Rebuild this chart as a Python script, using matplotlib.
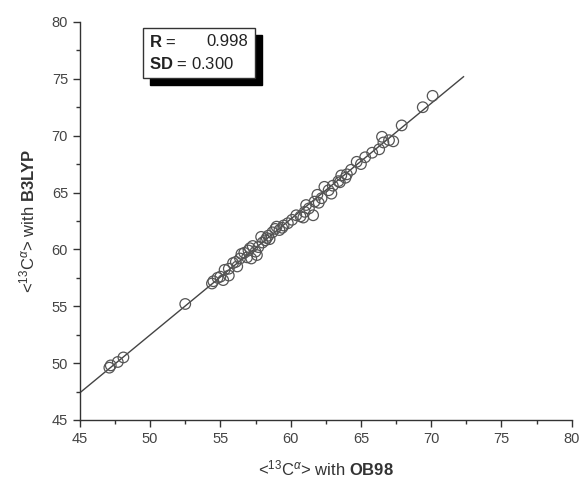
import matplotlib
matplotlib.use("Agg")
import matplotlib.pyplot as plt
import matplotlib.patches as mpatches
import numpy as np

plt.rcParams["font.family"] = ["Liberation Sans", "DejaVu Sans"]
plt.rcParams["mathtext.fontset"] = "custom"
plt.rcParams["mathtext.rm"] = "Liberation Sans"
plt.rcParams["mathtext.it"] = "Liberation Sans:italic"
plt.rcParams["mathtext.bf"] = "Liberation Sans:bold"

# <13C alpha> shifts, OB98 vs B3LYP
ob98 = [47.1, 47.2, 47.7, 48.1, 52.5, 54.4, 54.5, 55.0, 55.2, 55.3,
        55.6, 55.9, 56.2, 56.4, 56.5, 56.7, 56.9, 57.0, 57.2, 57.3,
        57.5, 57.7, 57.9, 58.0, 58.2, 58.4, 58.5, 58.7, 58.9, 59.0,
        59.2, 59.5, 59.8, 60.1, 60.4, 60.7, 61.0, 61.1, 61.3, 61.6,
        61.7, 61.9, 62.2, 62.4, 62.7, 63.0, 63.4, 63.5, 63.6, 63.9,
        64.3, 64.7, 65.0, 65.3, 65.8, 66.3, 66.5, 67.0, 67.3, 67.9,
        69.4, 70.1, 55.6, 56.1, 57.1, 57.6, 58.3, 59.4, 60.9, 62.0,
        62.9, 64.0, 66.6, 54.8]
b3lyp = [49.6, 49.8, 50.1, 50.5, 55.2, 57.0, 57.2, 57.6, 57.3, 58.2,
         58.3, 58.8, 58.5, 59.2, 59.6, 59.7, 59.3, 59.9, 59.2, 60.3,
         59.8, 60.2, 61.1, 60.6, 60.8, 61.2, 60.9, 61.5, 61.8, 62.0,
         61.7, 62.1, 62.3, 62.6, 63.0, 62.9, 63.3, 63.9, 63.6, 63.0,
         64.2, 64.8, 64.5, 65.5, 65.2, 65.6, 66.0, 65.9, 66.5, 66.3,
         67.0, 67.7, 67.5, 68.1, 68.5, 68.8, 69.9, 69.6, 69.5, 70.9,
         72.5, 73.5, 57.7, 58.9, 60.1, 59.5, 61.0, 61.9, 62.8, 64.1,
         64.9, 66.6, 69.4, 57.5]

fit_x = [45.0, 72.3]
fit_slope = 1.018
fit_icpt = 1.58

fig = plt.figure(figsize=(5.87, 4.87), dpi=100)
ax = fig.add_axes([0.136, 0.1376, 0.838, 0.8174])

ax.scatter(ob98, b3lyp, s=58, facecolors="none", edgecolors="#555555",
           linewidths=0.9, zorder=3)
fx = np.array(fit_x)
ax.plot(fx, fit_icpt + fit_slope * fx, color="#444444", lw=1.0, zorder=2)

ax.set_xlim(45, 80)
ax.set_ylim(45, 80)
ax.set_xticks(np.arange(45, 81, 5))
ax.set_yticks(np.arange(45, 81, 5))
ax.set_xticks(np.arange(47.5, 80, 5), minor=True)
ax.set_yticks(np.arange(47.5, 80, 5), minor=True)
for s in ("top", "right"):
    ax.spines[s].set_visible(False)
for s in ("left", "bottom"):
    ax.spines[s].set_color("#333333")
    ax.spines[s].set_linewidth(1.0)
ax.tick_params(which="major", direction="out", length=5, width=1,
               colors="#333333", labelsize=10.5, labelcolor="#444444")
ax.tick_params(which="minor", direction="out", length=3, width=1,
               colors="#333333")

ax.set_xlabel(r"<$^{13}$C$^{\alpha}$> with $\mathbf{OB98}$", fontsize=12,
              color="#333333", labelpad=9)
ax.set_ylabel(r"<$^{13}$C$^{\alpha}$> with $\mathbf{B3L\!YP}$", fontsize=12,
              color="#333333", labelpad=10)

# stats box with shadow
bx, by, bw, bh = 143 / 587, (487 - 78) / 487, 112 / 587, 50 / 487
shadow = mpatches.Rectangle((bx + 7 / 587, by - 7 / 487), bw, bh,
                            transform=fig.transFigure, facecolor="black",
                            edgecolor="black", zorder=5)
box = mpatches.Rectangle((bx, by), bw, bh, transform=fig.transFigure,
                         facecolor="white", edgecolor="#333333", lw=1,
                         zorder=6)
fig.patches.extend([shadow, box])
fig.text(bx + 6 / 587, by + bh * 0.72, r"$\mathbf{R}$ =", fontsize=12,
         va="center", ha="left", zorder=7, color="#222222")
fig.text(bx + bw - 7 / 587, by + bh * 0.72, "0.998", fontsize=12,
         va="center", ha="right", zorder=7, color="#222222")
fig.text(bx + 6 / 587, by + bh * 0.28, r"$\mathbf{SD}$ = 0.300", fontsize=12,
         va="center", ha="left", zorder=7, color="#222222")

fig.savefig("out.png", dpi=100)
